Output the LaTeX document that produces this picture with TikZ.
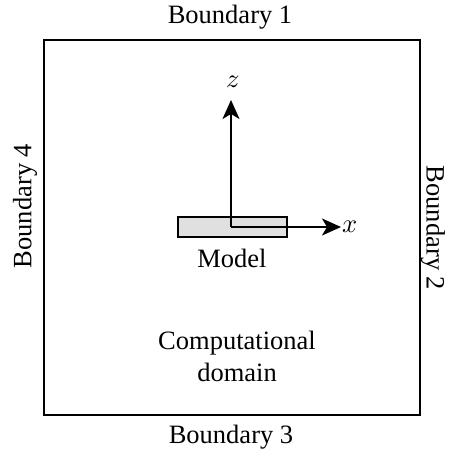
\documentclass[tikz,border=0pt]{standalone}
\usepackage{unicode-math}
\setmainfont{Liberation Serif}
\setmathfont{Latin Modern Math}
\usetikzlibrary{arrows.meta}
\begin{document}
\begin{tikzpicture}[x=1pt,y=-1pt,
  lbl/.style={inner sep=0pt,font=\fontsize{26.5}{32}\selectfont},
  axis/.style={line width=2pt,-{Stealth[length=19pt,width=17pt,inset=5pt]}}]
\useasboundingbox (0,0) rectangle (449,452);
\node[draw,line width=2pt,minimum width=376pt,minimum height=375pt,inner sep=0pt] (dom) at (232,227.5) {};
\node[draw,line width=1.5pt,fill=black!12,minimum width=109pt,minimum height=20pt,inner sep=0pt] (model) at (232.5,227) {};
\coordinate (o) at (231,227);
\coordinate (ztip) at (231,100);
\coordinate (xtip) at (341,227);
\draw[axis] (o) -- (ztip);
\draw[axis] (o) -- (xtip);
\node[lbl] (zl) at (233,82) {$z$};
\node[lbl,anchor=west] (xl) at (342,227) {$x$};
\node[lbl] (b1) at (230,17) {Boundary 1};
\node[lbl] (b3) at (231,437) {Boundary 3};
\node[lbl,rotate=90] (b4) at (25,206) {Boundary 4};
\node[lbl,rotate=-90] (b2) at (433,228) {Boundary 2};
\node[lbl] (ml) at (232,258) {Model};
\node[lbl,align=center] (cd) at (237,356) {Computational\\domain};
\end{tikzpicture}
\end{document}
